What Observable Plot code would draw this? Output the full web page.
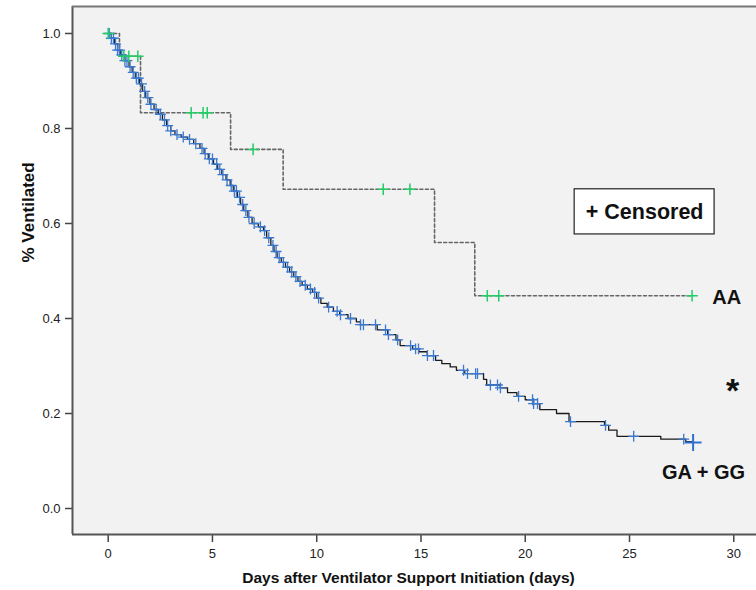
<!DOCTYPE html>
<html>
<head>
<meta charset="utf-8">
<script src="https://cdn.jsdelivr.net/npm/d3@7"></script>
<script src="https://cdn.jsdelivr.net/npm/@observablehq/plot@0.6"></script>
<style>
  html, body { margin: 0; padding: 0; background: #ffffff; }
  #chart { width: 756px; height: 590px; overflow: hidden; }
  svg { font-family: "Liberation Sans", Arial, sans-serif; }
</style>
</head>
<body>
<div id="chart"></div>
<script>
// ---- Data ----
// AA group: Kaplan-Meier step (time in days, survival after the step)
const aaTimes = [0, 0.54, 1.55, 5.87, 8.39, 15.65, 17.58, 28.0];
const aaSurv  = [1.0, 0.952, 0.833, 0.756, 0.672, 0.56, 0.448, 0.448];
// AA censored observations (days)
const aaCensor = [0, 0.75, 0.99, 1.42, 3.98, 4.55, 4.75, 6.95, 13.19, 14.47, 18.18, 18.73, 28.0];

// GA + GG group: Kaplan-Meier step
const gaTimes = [0, 0.15, 0.3, 0.45, 0.6, 0.8, 1.0, 1.15, 1.3, 1.5, 1.65, 1.8, 2.0, 2.2, 2.4, 2.6, 2.8, 3.0, 3.2, 3.5,
  3.8, 4.1, 4.4, 4.6, 4.8, 5.05, 5.25, 5.45, 5.65, 5.85, 6.0, 6.2, 6.35, 6.5, 6.7, 6.9, 7.2, 7.45, 7.6, 7.8,
  7.95, 8.1, 8.3, 8.5, 8.7, 8.9, 9.1, 9.3, 9.55, 9.8, 10.0, 10.2, 10.5, 10.8, 11.1, 11.5, 11.9, 12.1, 12.9, 13.4,
  13.8, 14.0, 14.6, 14.9, 15.3, 15.7, 16.0, 16.4, 16.7, 17.1, 18.0, 18.15, 18.8, 19.15, 19.6, 20.0, 20.4, 20.7, 21.5, 22.1,
  23.8, 24.0, 24.4, 26.5, 27.7, 28.0];
const gaSurv = [1.0, 0.99, 0.978, 0.965, 0.955, 0.943, 0.93, 0.918, 0.906, 0.894, 0.878, 0.865, 0.851, 0.84, 0.83, 0.818, 0.806, 0.795, 0.787, 0.782,
  0.777, 0.768, 0.758, 0.747, 0.736, 0.725, 0.714, 0.703, 0.692, 0.68, 0.668, 0.655, 0.64, 0.627, 0.613, 0.6, 0.593, 0.585, 0.57, 0.554,
  0.541, 0.528, 0.518, 0.508, 0.498, 0.488, 0.478, 0.47, 0.462, 0.455, 0.443, 0.432, 0.424, 0.415, 0.408, 0.4, 0.393, 0.387, 0.376, 0.366,
  0.355, 0.343, 0.336, 0.33, 0.322, 0.312, 0.305, 0.298, 0.291, 0.284, 0.272, 0.26, 0.254, 0.244, 0.236, 0.229, 0.221, 0.208, 0.2, 0.183,
  0.175, 0.165, 0.152, 0.146, 0.141, 0.141];
// GA + GG censored observations (days)
const gaCensor = [0.05, 0.15, 0.25, 0.35, 0.45, 0.55, 0.65, 0.8, 0.9, 1.05, 1.2, 1.35, 1.45, 1.6, 1.75, 1.9, 2.05, 2.3, 2.5, 2.7,
  2.85, 3.0, 3.3, 3.6, 3.9, 4.2, 4.5, 4.65, 4.85, 5.0, 5.2, 5.35, 5.5, 5.7, 5.9, 6.05, 6.15, 6.3, 6.45, 6.6,
  6.75, 7.0, 7.3, 7.5, 7.7, 7.9, 8.05, 8.2, 8.4, 8.6, 8.8, 9.0, 9.2, 9.45, 9.7, 9.9, 10.09, 10.57, 10.98, 11.14,
  11.62, 12.1, 12.24, 12.82, 13.3, 13.44, 13.88, 14.5, 14.74, 14.88, 15.31, 15.6, 17.04, 17.23, 17.62, 17.71, 18.33, 18.67, 18.81, 19.68,
  20.35, 20.4, 20.59, 22.17, 23.85, 25.2, 27.6];
const gaLastCensor = [28.05];

// Axis ticks
const xTicks = [0, 5, 10, 15, 20, 25, 30];
const yTicks = [0, 0.2, 0.4, 0.6, 0.8, 1.0];

// Annotation texts
const groupLabels = [
  {x: 29.66, y: 0.444, text: "AA"},
  {x: 28.55, y: 0.076, text: "GA + GG"}
];
const starLabel = [{x: 29.94, y: 0.265, text: "*"}];
const legendBox = [{x1: 22.37, x2: 29.08, y1: 0.577, y2: 0.672, text: "+ Censored"}];

// ---- Build tables ----
const aa = aaTimes.map((t, i) => ({t, s: aaSurv[i]}));
const ga = gaTimes.map((t, i) => ({t, s: gaSurv[i]}));
function survAt(times, surv, t) {
  const i = d3.bisectRight(times, t) - 1;
  return surv[Math.max(0, i)];
}
const aaC = aaCensor.map(t => ({t, s: survAt(aaTimes, aaSurv, t)}));
const gaC = gaCensor.map(t => ({t, s: survAt(gaTimes, gaSurv, t)}));
const gaL = gaLastCensor.map(t => ({t, s: 0.139}));

const xDomain = [-1.712, 31.09];
const yDomain = [-0.0547, 1.0568];

const plot = Plot.plot({
  width: 756,
  height: 590,
  marginLeft: 72,
  marginRight: 0,
  marginTop: 6,
  marginBottom: 56,
  style: {background: "#ffffff", fontFamily: "Liberation Sans, Arial, sans-serif"},
  x: {domain: xDomain},
  y: {domain: yDomain},
  marks: [
    Plot.frame({fill: "#f2f2f2", stroke: "none"}),
    Plot.axisX({ticks: xTicks, tickSize: 8, tickPadding: 6, fontSize: 13, stroke: "#444", strokeWidth: 1.5, fill: "#222", label: null}),
    Plot.axisY({ticks: yTicks, tickFormat: d3.format(".1f"), tickSize: 7, tickPadding: 5, fontSize: 13, stroke: "#444", strokeWidth: 1.5, fill: "#222", label: null}),
    Plot.ruleX([xDomain[0]], {stroke: "#555", strokeWidth: 2}),
    Plot.ruleY([yDomain[0]], {stroke: "#555", strokeWidth: 2}),
    Plot.ruleY([yDomain[1]], {stroke: "#777", strokeWidth: 2}),
    Plot.line(aa, {x: "t", y: "s", curve: "step-after", stroke: "#666", strokeWidth: 1.6, strokeDasharray: "3,2.5"}),
    Plot.line(ga, {x: "t", y: "s", curve: "step-after", stroke: "#1a1a1a", strokeWidth: 1.3}),
    Plot.dot(gaC, {x: "t", y: "s", symbol: "plus", r: 3.6, stroke: "#3b78cf", strokeWidth: 1.3}),
    Plot.dot(gaL, {x: "t", y: "s", symbol: "plus", r: 5.5, stroke: "#2f6fd0", strokeWidth: 2}),
    Plot.dot(aaC, {x: "t", y: "s", symbol: "plus", r: 3.8, stroke: "#22cc66", strokeWidth: 1.5}),
    Plot.rect(legendBox, {x1: "x1", x2: "x2", y1: "y1", y2: "y2", fill: "#ffffff", stroke: "#222", strokeWidth: 1.2}),
    Plot.text(legendBox, {x: d => (d.x1 + d.x2) / 2, y: d => (d.y1 + d.y2) / 2, text: "text", fontSize: 21.5, fontWeight: "bold", fill: "#111"}),
    Plot.text(groupLabels, {x: "x", y: "y", text: "text", fontSize: 20, fontWeight: "bold", fill: "#111"}),
    Plot.text(starLabel, {x: "x", y: "y", text: "text", fontSize: 34, fontWeight: "bold", fill: "#111", dy: 8}),
    Plot.text(["% Ventilated"], {frameAnchor: "left", dx: -44, dy: -8, rotate: -90, text: d => d, fontSize: 17, fontWeight: "bold", fill: "#111", lineAnchor: "middle"}),
    Plot.text(["Days after Ventilator Support Initiation (days)"], {frameAnchor: "bottom", dx: -6, dy: 44, text: d => d, fontSize: 15.5, fontWeight: "bold", fill: "#111", lineAnchor: "middle"})
  ]
});
document.getElementById("chart").appendChild(plot);
</script>
</body>
</html>
